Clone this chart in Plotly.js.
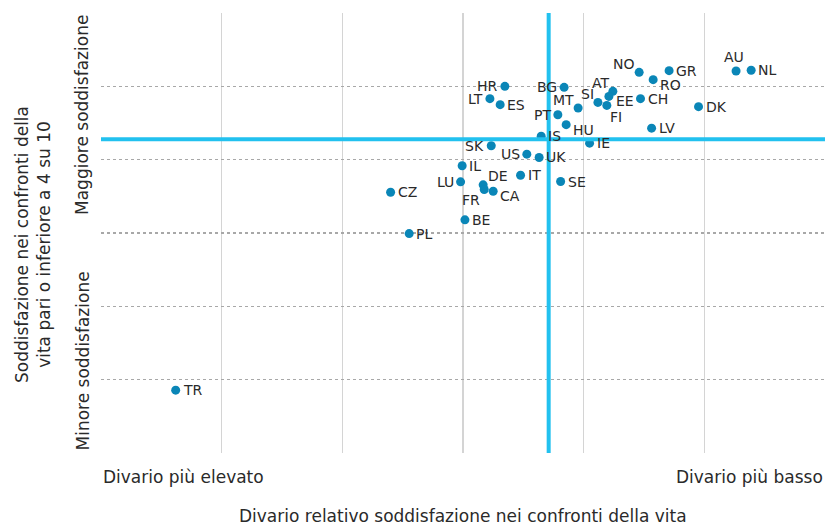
<!DOCTYPE html>
<html>
<head>
<meta charset="utf-8">
<script src="https://cdn.plot.ly/plotly-3.0.1.min.js"></script>
<style>html,body{margin:0;padding:0;background:#fff}#chart{width:827px;height:528px}</style>
</head>
<body>
<div id="chart"></div>
<script>
const countries = ["AU","NL","GR","NO","RO","CH","DK","LV","HR","LT","ES","BG","AT","SI","EE","FI","MT","PT","HU","IS","IE","SK","US","UK","IL","LU","IT","SE","DE","FR","CA","CZ","BE","PL","TR"];
const gapScore = [5.263,5.388,4.708,4.460,4.576,4.471,4.952,4.563,3.347,3.223,3.308,3.838,4.242,4.118,4.209,4.192,3.954,3.786,3.855,3.648,4.049,3.234,3.529,3.631,2.993,2.980,3.477,3.809,3.167,3.176,3.250,2.400,3.016,2.554,0.619];
const satisfactionScore = [5.209,5.219,5.214,5.191,5.091,4.832,4.723,4.430,5.000,4.832,4.750,4.986,4.932,4.781,4.863,4.740,4.704,4.613,4.477,4.321,4.225,4.190,4.075,4.030,3.917,3.698,3.788,3.702,3.657,3.593,3.570,3.556,3.179,2.992,0.857];
const labelPositions = ["top center","middle right","middle right","top left","bottom right","middle right","middle right","middle right","middle left","middle left","middle right","middle left","top left","top left","bottom right","bottom","top left","middle left","bottom right","middle right","middle right","middle left","middle left","middle right","middle right","middle left","middle right","middle right","top right","bottom left","bottom right","middle right","middle right","middle right","middle right"];
const averageGap = 3.71;
const averageSatisfaction = 4.28;
const xEndLabels = ["Divario più elevato","Divario più basso"];
const yEndLabels = ["Minore soddisfazione","Maggiore soddisfazione"];
const xTitle = "Divario relativo soddisfazione nei confronti della vita";
const yTitle = "Soddisfazione nei confronti della<br>vita pari o inferiore a 4 su 10";

const FONT = "DejaVu Sans";
const TXT = "#2a2a2a";

// label placement styles (offsets in pixels from the marker centre)
const placement = {
  "middle right": {xanchor: "left",   xshift: 7,  yshift: 0},
  "middle left":  {xanchor: "right",  xshift: -7, yshift: 0},
  "top left":     {xanchor: "right",  xshift: -4, yshift: 8},
  "top center":   {xanchor: "center", xshift: -2, yshift: 14},
  "top right":    {xanchor: "left",   xshift: 5,  yshift: 9},
  "bottom right": {xanchor: "left",   xshift: 7,  yshift: -5},
  "bottom":       {xanchor: "left",   xshift: 3,  yshift: -12},
  "bottom left":  {xanchor: "right",  xshift: -4, yshift: -10}
};

const trace = {
  type: "scatter",
  mode: "markers",
  x: gapScore,
  y: satisfactionScore,
  marker: {size: 9, color: "#0a86b7"},
  cliponaxis: false,
  hoverinfo: "skip"
};

const pointLabels = countries.map((c, i) => {
  const p = placement[labelPositions[i]];
  return {
    xref: "x", yref: "y", x: gapScore[i], y: satisfactionScore[i],
    text: c, showarrow: false, xanchor: p.xanchor, yanchor: "middle",
    xshift: p.xshift, yshift: p.yshift, borderpad: 0, borderwidth: 0,
    font: {family: FONT, size: 14, color: TXT}
  };
});

const layout = {
  width: 827, height: 528,
  margin: {l: 101, r: 2, t: 13, b: 75},
  paper_bgcolor: "#fff", plot_bgcolor: "#fff",
  showlegend: false,
  font: {family: FONT, color: TXT},
  xaxis: {
    range: [0, 6], dtick: 1, tick0: 0,
    showticklabels: false, ticks: "",
    showgrid: true, gridcolor: "#d4d4d4", gridwidth: 1.5,
    zeroline: false, showline: false
  },
  yaxis: {
    range: [0, 6], dtick: 1, tick0: 0,
    showticklabels: false, ticks: "",
    showgrid: true, gridcolor: "#a8a8a8", gridwidth: 1.5, griddash: "dot",
    zeroline: false, showline: false
  },
  shapes: [
    {type: "line", xref: "x", yref: "paper", x0: averageGap, x1: averageGap, y0: 0, y1: 1,
     line: {color: "#22c1ef", width: 4}},
    {type: "line", xref: "paper", yref: "y", x0: 0, x1: 1, y0: averageSatisfaction, y1: averageSatisfaction,
     line: {color: "#22c1ef", width: 4}}
  ],
  annotations: pointLabels.concat([
    {xref: "paper", yref: "paper", x: 0, y: 0, yshift: -24, xanchor: "left", yanchor: "middle",
     text: xEndLabels[0], showarrow: false, font: {family: FONT, size: 17, color: TXT}},
    {xref: "paper", yref: "paper", x: 1, y: 0, yshift: -24, xanchor: "right", yanchor: "middle",
     text: xEndLabels[1], showarrow: false, font: {family: FONT, size: 17, color: TXT}},
    {xref: "paper", yref: "paper", x: 0.5, y: 0, yshift: -63, xanchor: "center", yanchor: "middle",
     text: xTitle, showarrow: false, font: {family: FONT, size: 17, color: TXT}},
    {xref: "paper", yref: "paper", x: 0, xshift: -19, y: 0, textangle: -90, xanchor: "center", yanchor: "bottom",
     text: yEndLabels[0], showarrow: false, font: {family: FONT, size: 17, color: TXT}},
    {xref: "paper", yref: "paper", x: 0, xshift: -19, y: 1, textangle: -90, xanchor: "center", yanchor: "top",
     text: yEndLabels[1], showarrow: false, font: {family: FONT, size: 17, color: TXT}},
    {xref: "paper", yref: "paper", x: 0, xshift: -68, y: 0.5, yshift: -12, textangle: -90, xanchor: "center", yanchor: "middle",
     text: yTitle, showarrow: false, font: {family: FONT, size: 17, color: TXT}}
  ])
};

Plotly.newPlot("chart", [trace], layout, {displayModeBar: false, staticPlot: true});
</script>
</body>
</html>
